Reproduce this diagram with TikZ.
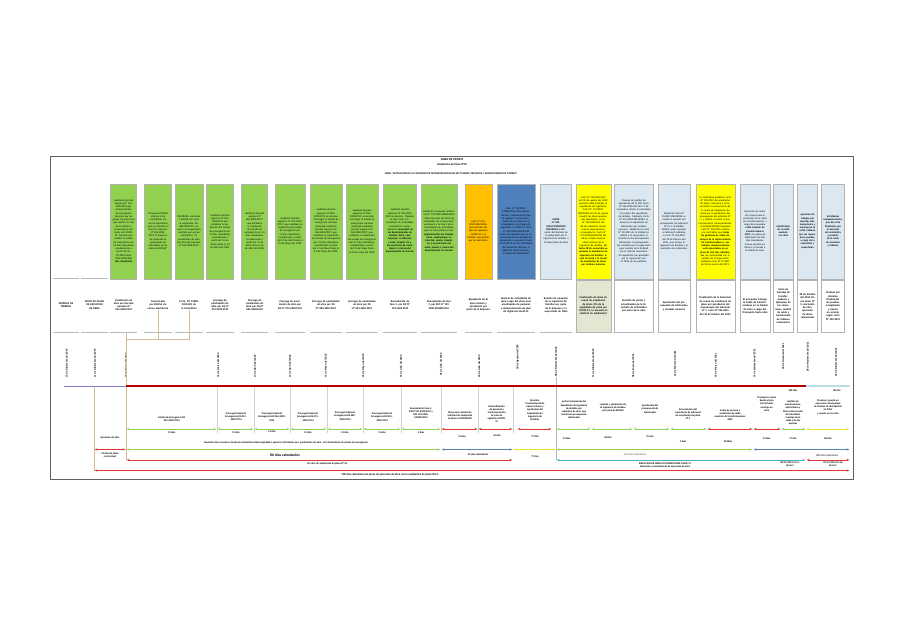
\documentclass[tikz,border=0pt]{standalone}
\usepackage{fontspec}
\setmainfont{Carlito}
\usepackage{xcolor}
\usetikzlibrary{arrows.meta}
\newlength\pxu \setlength\pxu{0.03cm}
\newlength\pxt \setlength\pxt{0.026cm}
\definecolor{verde}{RGB}{146,208,80}
\definecolor{naranja}{RGB}{255,192,0}
\definecolor{azul}{RGB}{79,129,189}
\definecolor{celeste}{RGB}{219,232,242}
\definecolor{amarillo}{RGB}{255,255,0}
\definecolor{verdegris}{RGB}{226,231,210}
\definecolor{rojo}{RGB}{180,0,0}
\definecolor{rojol}{RGB}{226,52,52}
\definecolor{amarillol}{RGB}{236,226,40}
\definecolor{azull}{RGB}{90,130,175}
\definecolor{cian}{RGB}{75,172,198}
\definecolor{celestel}{RGB}{183,222,232}
\definecolor{lila}{RGB}{128,128,200}
\definecolor{tostado}{RGB}{214,188,150}

\begin{document}
\begin{tikzpicture}[x=0.03cm, y=-0.03cm,
    caja/.style={draw=gray!60, anchor=north, minimum height=95\pxu, inner sep=0.4pt, align=center, font=\fontsize{2.2}{2.75}\selectfont},
    hito/.style={align=center, inner sep=0.4pt, font=\bfseries\fontsize{2.3}{2.8}\selectfont},
    hitocaja/.style={hito, draw=gray!60, fill=white, minimum height=52\pxu},
    fecha/.style={rotate=90, anchor=west, inner sep=0.3pt, font=\bfseries\fontsize{2.3}{2.7}\selectfont},
    raya/.style={draw=gray!55, line width=0.4pt},
    enlace/.style={draw=tostado, line width=0.5pt},
    dur/.style={line width=0.55pt, {Stealth[length=2.4pt,width=1.9pt]}-{Stealth[length=2.4pt,width=1.9pt]}, shorten <=0.6pt, shorten >=0.6pt},
    etq/.style={align=center, inner sep=0.3pt, font=\bfseries\fontsize{2.2}{2.7}\selectfont}]

    \fill[white] (0,0) rectangle (905,640);
    \useasboundingbox (0,0) rectangle (905,640);

    % marco
    \draw[gray!75!black, line width=0.7pt] (50,156) rectangle (853,479);

    % titulo
    \node[font=\bfseries\fontsize{2.6}{3}\selectfont] (tit) at (452,160) {LINEA DE TIEMPO};
    \node[font=\bfseries\fontsize{2.4}{3}\selectfont] (sub) at (452,164.5) {Ampliación de Plazo N°05};
    \node[font=\bfseries\fontsize{2.2}{3}\selectfont] (obra) at (451,174) {OBRA: "AMPLIACION DE LA CAPACIDAD DE TRANSFORMACION DE SET TUMBES, PROVINCIA Y DEPARTAMENTO DE TUMBES"};

    % cuadros superiores
    \node[caja, fill=verde, minimum width=26\pxu, text width=26\pxt] (c3) at (123.7,183.5) {mediante Decreto supremo N° 044-2020-PCM que declara Estado de Emergencia Nacional por las graves circunstancias que afectan la vida de la Nación a consecuencia del brote del COVID-19. Decreto que estable el estado de emergencia por 15 días calendarios considerando a partir del 16-03-2020 hasta 30-03-2020 \textbf{(15 días calendario)}};
    \node[caja, fill=verde, minimum width=27\pxu, text width=27\pxt] (c4) at (158,183.5) {la Empresa ENOSA informa a los contratistas vía correo electrónico "que en atención al Decreto Supremo N° 044-2020-PCM, la Empresa ha ordenado la paralización de actividades en las obras de ENOSA"};
    \node[caja, fill=verde, minimum width=28\pxu, text width=28\pxt] (c5) at (189,183.5) {DELCROSA, comunica a ENOSA con carta la suspensión 1D-080-2020-DC, con copia a la Supervisión, remitida por correo electrónico, "la paralización de obra por Decreto Supremo N° 044-2020-PCM"};
    \node[caja, fill=verde, minimum width=27\pxu, text width=27\pxt] (c6) at (220,183.5) {mediante Decreto supremo N° 051-2020-PCM que establece la ampliación del estado de emergencia por 13 días calendarios considerando a partir del 31 de Marzo hasta el 12 de Abril del 2020.};
    \node[caja, fill=verde, minimum width=26\pxu, text width=26\pxt] (c7) at (254.7,183.5) {mediante Decreto supremo N° 064-2020-PCM", que establece la ampliación del estado de emergencia por 14 días calendarios, considerando a partir del 13 de Abril hasta el 26 de Abril del 2020.};
    \node[caja, fill=verde, minimum width=30\pxu, text width=30\pxt] (c8) at (290,183.5) {mediante Decreto supremo N° 075-2020-PCM", que establece la ampliación del estado de emergencia por 14 días calendarios, considerando a partir del 27 de Abril hasta el 10 de Mayo del 2020.};
    \node[caja, fill=verde, minimum width=32\pxu, text width=32\pxt] (c9) at (326,183.5) {mediante decreto supremo N° 083-2020-PCM se decreta: "prorrogar el estado de emergencia nacional declarado mediante decreto supremo N° 044-2020-PCM", que establece la ampliación del estado de emergencia por 14 días calendarios considerando a partir del 11 de Mayo hasta el 24 de Mayo del 2020.};
    \node[caja, fill=verde, minimum width=32\pxu, text width=32\pxt] (c10) at (362,183.5) {mediante decreto supremo N° 094-2020-PCM se decreta: "prorrogar el estado de emergencia nacional declarado mediante decreto supremo N° 044-2020-PCM", que establece la ampliación del estado de emergencia por 37 días calendarios considerando a partir del 25 de Mayo hasta el 30 de Junio del 2020.};
    \node[caja, fill=verde, minimum width=33\pxu, text width=33\pxt] (c11) at (400,183.5) {mediante decreto supremo N° 101-2020-PCM se decreta: "Aprobar la fase 2 de la reanudación de actividades económicas", exceptuando la \textbf{ocupación de los departamentos de Tumbes, Piura, Lambayeque, La Libertad, Loreto, Ucayali, ica y las provincias de santa, Huaraz y Casma del departamento de Ancash.}};
    \node[caja, fill=verde, minimum width=36\pxu, text width=36\pxt] (c12) at (439,183.5) {Mediante resolución ministerial N° 139-2020-MINEM/DM "Determinación del inicio de actividades de construcción" pertenece a la fase 2 de la reanudación de actividades para la zona urbana en los \textbf{departamentos de Tumbes, Piura, Lambayeque, La Libertad, Loreto, Ucayali, ica y las provincias de santa, Huaraz y Casma del departamento de Ancash.}};
    \node[caja, fill=naranja, minimum width=27\pxu, text width=27\pxt] (c13) at (478.3,183.5) {carta N° 076-2020 DELCROSA, presentación del plan de vigilancia COVID-19 a la Entidad, presentado por la contratista.};
    \node[caja, fill=azul, minimum width=38\pxu, text width=38\pxt] (c14) at (516,183.5) {R.M. N° 128-2020-MINEM/DM, Documento Técnico: Lineamientos para la vigilancia, prevención y control de la salud de los trabajadores con riesgo de exposición a COVID-19. R.M. N° 239-2020-MINSA/DM Protocolo Sanitario para la Implementación de medidas de prevención y respuesta frente al COVID-19 en las actividades del Subsector Minería, el Subsector Hidrocarburos y el Subsector Electricidad};
    \node[caja, fill=celeste, minimum width=31\pxu, text width=31\pxt] (c15) at (556,183.5) {\textbf{CARTA}\\\textbf{N° 184-2020/CONSORCIO DELCROSA} Notificación del Reinicio de la elaboración de la ingeniería de detalles a la Supervisión de obra};
    \node[caja, fill=amarillo, minimum width=35\pxu, text width=35\pxt] (c16) at (593.3,183.5) {Carta N° 100-2020-SUP del 05 de agosto del 2020 presenta observaciones al expediente de ingeniería. Carta N° 173/2020-DELCROSA del 25 de agosto levanta las observaciones del expediente. Carta N° 192-2020-SUP del 08 de setiembre remite nuevas observaciones al expediente. Carta N° 217/2020-DELCROSA del 20 de octubre levanta observaciones de la ingeniería de detalles. \textbf{En fecha 08 de noviembre se aprueba el expediente de ingeniería de detalles, la cual da inicio a la causal de ampliación de plazo por cambios menores}};
    \node[caja, fill=celeste, minimum width=39\pxu, text width=39\pxt] (c17) at (633.8,183.5) {Proceso de gestión de aprobación de la IDD. Carta N° 246-2020-SUP del 17 de noviembre remite al contratista la revisión del expediente de detalles. Mediante Carta N° 261/2020-DELCROSA se presenta el expediente de adicionales por cambios menores. Mediante la Carta N° 02-2021 de la Entidad se solicita a la supervisión la revisión de los presupuestos adicionales. El presupuesto fue remitido por la supervisión para revisión de la Entidad con el informe respectivo. El expediente fue aprobado por la supervisión con el 100\% de las partidas.};
    \node[caja, fill=celeste, minimum width=32\pxu, text width=32\pxt] (c18) at (674,183.5) {Mediante Carta N° 09-2021-DELCROSA se remite la revisión del presupuesto del adicional N° 01 a la Entidad ENOSA, quien aprueba el adicional mediante la carta N° 246-2021 del 18 de febrero del 2021, que incluye la ingeniería de detalles y el suministro de materiales.};
    \node[caja, fill=amarillo, minimum width=39\pxu, text width=39\pxt] (c19) at (715.3,183.5) {La contratista mediante carta N° 039-2021 de ampliación de plazo, comunica a la Supervisión la concurrencia de la causal de ampliación de plazo por la aprobación del presupuesto del adicional N° 1, y solicita se emita el pronunciamiento correspondiente. La Entidad ENOSA mediante carta N° 318-2021 notifica a la contratista que \textbf{todas las gestiones de orden de compra de la celda modular de transformadores y sus trabajos complementarios serán ejecutados en un plazo de 204 días calendarios}, de conformidad con la opinión de la Supervisión mediante carta N° 07-2021 del 05 de marzo del 2021.};
    \node[caja, fill=celeste, minimum width=30\pxu, text width=30\pxt] (c20) at (755,183.5) {Ejecución de orden de compra para el suministro de la celda de transformadores, a cargo del proveedor, \textbf{celda modular de transformadores 33kV}, con plazo de fabricación de 204 días calendarios, incluye pruebas en fábrica y traslado a la ciudad de Lima.};
    \node[caja, fill=celeste, minimum width=20\pxu, text width=20\pxt] (c21) at (783.3,183.5) {\textbf{Movilización de la celda modular a la obra}};
    \node[caja, fill=celeste, minimum width=20\pxu, text width=20\pxt] (c22) at (807.5,183.5) {\textbf{ejecución de trabajos por montaje electromecánico y montaje de la celda, tableros con sus respectivas pruebas, a cargo de la contratista y supervisión}};
    \node[caja, fill=celeste, minimum width=23\pxu, text width=23\pxt] (c23) at (833,183.5) {\textbf{Actividades complementarias, que han sido finalizadas por el personal del contratista y pruebas de la celda de maniobra y tableros}};

    % hitos
    \node[hito, minimum width=25\pxu, text width=23\pxt] (h1) at (66,305) {ENTREGA DE TERRENO};
    \node[hito, minimum width=26\pxu, text width=26\pxt] (h2) at (94.5,305) {INICIO DE PLAZO DE EJECUCION DE OBRA};
    \node[hito, minimum width=26\pxu, text width=26\pxt] (h3) at (123.7,305) {Paralización de obra por Decreto supremo N° 044-2020-PCM};
    \node[hito, minimum width=27\pxu, text width=27\pxt] (h4) at (158,305) {Comunicado por ENOSA vía correo electrónico};
    \node[hito, minimum width=28\pxu, text width=28\pxt] (h5) at (189,305) {Carta. DT 15800-2020-001 de la Contratista};
    \node[hito, minimum width=27\pxu, text width=27\pxt] (h6) at (220,305) {prorroga de paralización de obra por DS N° 051-2020-PCM};
    \node[hito, minimum width=26\pxu, text width=26\pxt] (h7) at (254.7,305) {Prorroga de paralización de obra por DS N° 064-2020-PCM};
    \node[hito, minimum width=30\pxu, text width=30\pxt] (h8) at (290,305) {Prorroga de paralización de obra por DS N° 075-2020-PCM};
    \node[hito, minimum width=32\pxu, text width=32\pxt] (h9) at (326,305) {Prorroga de paralización de obra por DS N° 083-2020-PCM};
    \node[hito, minimum width=32\pxu, text width=32\pxt] (h10) at (362,305) {prorroga de paralización de obra por DS N° 094-2020-PCM};
    \node[hito, minimum width=33\pxu, text width=33\pxt] (h11) at (400,305) {Reanudación de fase 2, por DS N° 101-2020-PCM};
    \node[hito, minimum width=36\pxu, text width=36\pxt] (h12) at (439,305) {Reanudación de fase 2, por RM N° 139-2020-MINEM/DM.};
    \node[hito, minimum width=27\pxu, text width=27\pxt] (h13) at (478.3,305) {Expediente de El plan revisión y aprobación por parte de la Empresa};
    \node[hito, minimum width=38\pxu, text width=38\pxt] (h14) at (516,305) {Reinicio de actividades de obra, luego del plazo para movilización de personal e implementación de plan de Vigilancia Covid-19};
    \node[hito, minimum width=31\pxu, text width=31\pxt] (h15) at (556,305) {Reinicio de ejecución de la ingeniería de Detalles por parte de la Empresa y la supervisión de Obra};
    \node[hitocaja, fill=verdegris, minimum width=35\pxu, text width=35\pxt] (h16) at (593.3,306) {Finalización de inicio de causal de ampliación de plazo, (fin de la ampliación de plazo por COVID-19, se presenta la solicitud de ampliación)};
    \node[hitocaja, minimum width=39\pxu, text width=39\pxt] (h17) at (633.8,306) {Revisión de partes y actualización de la IG, revisión de actividades por parte de la obra};
    \node[hitocaja, minimum width=32\pxu, text width=32\pxt] (h18) at (674,306) {Aprobación del presupuesto de adicionales y cambios menores};
    \node[hitocaja, minimum width=39\pxu, text width=39\pxt] (h19) at (715.3,306) {Finalización de la Intercción de causal de ampliación de plazo por aprobación del presupuesto del adicional N° 1, carta N° 246-2021 del 18 de febrero del 2021};
    \node[hitocaja, minimum width=30\pxu, text width=30\pxt] (h20) at (755,306) {El proveedor Entrega la Celda de transformadores en la Ciudad de Lima a cargo del Transporte hasta obra};
    \node[hitocaja, minimum width=20\pxu, text width=20\pxt] (h21) at (783.3,306) {Inicio de montaje de transformadores y aplicación de las conexiones, cambio de celda y conexionado de tableros remanentes};
    \node[hitocaja, minimum width=20\pxu, text width=20\pxt] (h22) at (807.5,306) {28 de octubre del 2021 Fin con plazo N° 5 conclusión de obra, ejecución de obras remanentes};
    \node[hitocaja, minimum width=23\pxu, text width=23\pxt] (h23) at (833,306) {Pruebas por sistemas, finalización de pruebas, energización y puesta en servicio según carta N° 130-2021};

    % subrayados
    \coordinate (u0) at (0,278);
    \coordinate (u) at (0,332);
    \draw[raya] (h1.west|-u0) -- (h1.east|-u0);
    \draw[raya] (h2.west|-u0) -- (h2.east|-u0);
    \foreach \n in {1,...,15}
        \draw[raya] (h\n.west|-u) -- (h\n.east|-u);

    % fechas
    \node[fecha] (f1) at (66.7,378) {10 de Diciembre del 2019};
    \node[fecha] (f2) at (95,378) {11 de Diciembre del 2019};
    \node[fecha] (f3) at (126,378) {16 de Marzo del 2020};
    \node[fecha] (f6) at (218.3,378) {31 de Marzo del 2020};
    \node[fecha] (f7) at (255,378) {13 de Abril del 2020};
    \node[fecha] (f8) at (290,378) {27 de Abril del 2020};
    \node[fecha] (f9) at (326,378) {11 de Mayo del 2020};
    \node[fecha] (f10) at (363.3,378) {25 de Mayo del 2020};
    \node[fecha] (f11) at (401,378) {01 de Julio del 2020};
    \node[fecha] (f12) at (441,376) {05 de Julio del 2020};
    \node[fecha] (f13) at (479.3,378) {20 de Julio del 2020};
    \node[fecha] (f14) at (517.7,370) {18 de Agosto del 2020};
    \node[fecha] (f15) at (556,377) {08 de Noviembre del 2020};
    \node[fecha] (f16) at (593.3,378) {11 de Diciembre del 2020};
    \node[fecha] (f17) at (633.3,378) {08 de Enero del 2021};
    \node[fecha] (f18) at (675,377) {22 de Febrero del 2021};
    \node[fecha] (f19) at (715.7,378) {05 de Marzo del 2021};
    \node[fecha] (f20) at (754.3,378) {25 de Setiembre del 2021};
    \node[fecha] (f21) at (783.3,370) {18 de Octubre del 2021};
    \node[fecha] (f22) at (807.7,372) {08 de Noviembre del 2021};
    \node[fecha] (f23) at (836,377) {05 de Diciembre del 2021};

    % linea de tiempo
    \coordinate (t1) at (64,386);   \coordinate (t2) at (94,386);   \coordinate (t3) at (126,386);
    \coordinate (t6) at (217,386);  \coordinate (t7) at (254,386);  \coordinate (t8) at (290,386);
    \coordinate (t9) at (327,386);  \coordinate (t10) at (363,386); \coordinate (t11) at (401,386);
    \coordinate (t12) at (441,386); \coordinate (t13) at (478,386); \coordinate (t14) at (513,386);
    \coordinate (t15) at (556,386); \coordinate (t16) at (591,386); \coordinate (t17) at (633,386);
    \coordinate (t18) at (670,386); \coordinate (t19) at (707,386); \coordinate (t20) at (753,386);
    \coordinate (t21) at (781,386); \coordinate (t22) at (806,386); \coordinate (t23) at (850,386);
    \coordinate (q) at (0,339);
    \coordinate (r0) at (0,433);
    \coordinate (r1) at (0,429);
    \coordinate (r2) at (0,449.5);
    \coordinate (r3) at (0,460);
    \coordinate (r4) at (0,470.5);

    % enlaces
    \draw[enlace] (t3|-u) -- (t3);
    \draw[enlace] (h4.south) |- (t3|-q);
    \draw[enlace] (h5.south) |- (t3|-q);
    \draw[enlace] (t2) -- (t2|-r4);
    \draw[enlace] (t3) -- (t3|-r3);
    \draw[raya] (f15.west) -- (t15|-r3);
    \foreach \t in {t6,t7,t8,t9,t10,t11,t12,t13,t14}
        \draw[raya, gray!35] (\t) -- (\t|-r0);

    \draw[lila, line width=0.8pt] (t1) -- (t3);
    \draw[rojo, line width=2.4pt] (t3) -- (t22);
    \draw[celestel, line width=2.4pt] (t22) -- (t23);

    % duraciones (fila 1)
    \foreach \a/\b in {t3/t6,t6/t7,t7/t8,t8/t9,t9/t10,t10/t11,t11/t12,t15/t16,t16/t17,t17/t18,t18/t19,t21/t22}
        \draw[dur, verde] (\a|-r1) -- (\b|-r1);
    \foreach \a/\b in {t12/t13,t13/t14,t19/t20,t20/t21}
        \draw[dur, rojol] (\a|-r1) -- (\b|-r1);
    \draw[dur, rojol, shorten <=4pt, shorten >=4pt] (t14|-r1) -- (t15|-r1);
    \draw[dur, amarillol] (t22|-r1) -- (t23|-r1);

    % duraciones (filas 2 a 4)
    \draw[dur, rojol] (t2|-r2) -- (t3|-r2);
    \draw[dur, verde] (t3|-r2) -- (t12|-r2);
    \draw[dur, azull] (t12|-r2) -- (t14|-r2);
    \draw[dur, amarillol] (t14|-r2) -- (t15|-r2);
    \draw[dur, verde] (t15|-r2) -- (t20|-r2);
    \draw[dur, azull] (t20|-r2) -- (t23|-r2);
    \draw[dur, rojol] (t3|-r3) -- (t14|-r3);
    \draw[dur, cian] (t15|-r3) -- (t22|-r3);
    \draw[dur, rojol] (t22|-r3) -- (t23|-r3);
    \draw[dur, rojol] (t2|-r4) -- (t23|-r4);

    % textos de los tramos
    \node[etq] (s1) at (171.7,419) {Estado de Emergencia DS\\044-2020-PCM};
    \node[etq] (s2) at (236,416.5) {Prorroga Estado de\\Emergencia DS 051-\\2020-PCM};
    \node[etq] (s3) at (272,417) {Prorroga Estado de\\Emergencia DS 064-2020-\\PCM};
    \node[etq] (s4) at (308,417) {Prorroga Estado de\\Emergencia DS 075-\\2020-PCM};
    \node[etq] (s5) at (345,416) {Prorroga Estado de\\Emergencia DS 083-\\2020-PCM};
    \node[etq] (s6) at (382,417) {Prorroga Estado de\\Emergencia DS 094-\\2020-PCM};
    \node[etq] (s7) at (421,413) {Reanudación Fase 2,\\DS N°101-2020-PCM y\\RM 139-2020-\\MINEM/DM};
    \node[etq] (s8) at (460,416) {Plazo para revisión de\\solicitud de ampliación\\de plazo al CONTRATO};
    \node[etq] (s9) at (496.7,414) {Removilización\\de personal e\\implementación\\de plan de\\vigilancia COVID-\\19};
    \node[etq] (s10) at (535,410) {Revisión,\\levantamiento de\\observaciones y\\aprobación del\\Expediente de\\Ingeniería de\\Detalles};
    \node[etq] (s11) at (574,410) {perfeccionamiento del\\Expediente de Ingeniería\\de detalles por\\replanteo de obra, que\\involucran presupuesto\\adicionales};
    \node[etq] (s12) at (613,408) {revisión y aprobación de\\la ingeniería de detalles\\por parte de ENOSA};
    \node[etq] (s13) at (650,409) {Aprobación del\\presupuesto de\\adicionales};
    \node[etq] (s14) at (688,414) {Presentación del\\expediente de adicional\\de ampliación de plazo\\N° 5};
    \node[etq] (s15) at (730,415) {orden de compra y\\suministro de celda\\modular de transformadores\\33kV};
    \node[etq] (s16) at (766.7,404) {Transporte a obra\\desde el país\\(Lima) hasta\\montaje en\\obra};
    \node[etq] (s17) at (793,413) {Gestión de\\autorizaciones,\\aplicaciones y\\firmas del acuerdo\\de la Entidad,\\montaje de la\\celda y de los\\equipos};
    \node[etq] (s18) at (828,407) {Pruebas y puesta en\\operación, desmontaje\\de sistema de distribución\\en 22kV\\y puesta en servicio};

    \node[etq] (d1) at (171.7,432.5) {15 días};
    \node[etq] (d2) at (236,432.5) {13 días};
    \node[etq] (d3) at (272,432) {14 días};
    \node[etq] (d4) at (308,432.5) {14 días};
    \node[etq] (d5) at (345,432.5) {14 días};
    \node[etq] (d6) at (382,433) {12 días};
    \node[etq] (d7) at (421,433) {4 días};
    \node[etq] (d8) at (462,436.7) {15 días};
    \node[etq] (d9) at (497,436) {30 días};
    \node[etq] (d10) at (535,437) {77 días};
    \node[etq] (d11) at (566.7,439) {33 días};
    \node[etq] (d12) at (608,438) {28 días};
    \node[etq] (d13) at (650,437) {45 días};
    \node[etq] (d14) at (683,441.7) {5 días};
    \node[etq] (d15) at (728,441.7) {204días};
    \node[etq] (d16) at (766.7,439) {23 días};
    \node[etq] (d17) at (793,439) {71 días};
    \node[etq] (d18) at (828,439) {86 días};

    % textos de los plazos
    \node[etq] (n1) at (110,438) {Ejecución de obra};
    \node[etq] (n2) at (110,455.5) {95 días de plazo\\contractual};
    \node[etq] (n3) at (286,443) {Duración de la causal en donde el contratista estaba impedido a ejecutar actividades por \ paralización de obra - Por declaratoria de estado de emergencia};
    \node[etq, font=\bfseries\fontsize{3.2}{3.6}\selectfont] (n4) at (285,455) {86 días calendarios};
    \node[etq] (n5) at (478,454.5) {45 días calendarios};
    \node[etq] (n6) at (535,456.5) {77 días};
    \node[etq, gray!60!black, font=\fontsize{2.3}{2.8}\selectfont] (n7) at (635,455) {315 días calendarios};
    \node[etq, font=\fontsize{2.3}{2.8}\selectfont] (n8) at (827,456) {180 días calendarios};
    \node[etq] (n9) at (327,463.5) {131 días de ampliación de plazo N° 02};
    \node[etq] (n10) at (665,465) {EJECUCION DE OBRA EN CONDICIONES COVID 19\\afectación al rendimiento de ejecución de obra};
    \node[etq] (n11) at (790,464.5) {08/10/2021 Fin A.\\plazo 4};
    \node[etq] (n12) at (833,464.5) {05/12/2021 fin de\\plazo 5};
    \node[etq, font=\bfseries\fontsize{2.4}{2.8}\selectfont] (n13) at (390,474.5) {798 días calendarios de plazo de ejecución de obra con la ampliación de plazo Nro 5};
    \node[etq] (n14) at (793,391) {580 días};
    \node[etq] (n15) at (837,391) {86 días};
\end{tikzpicture}
\end{document}
